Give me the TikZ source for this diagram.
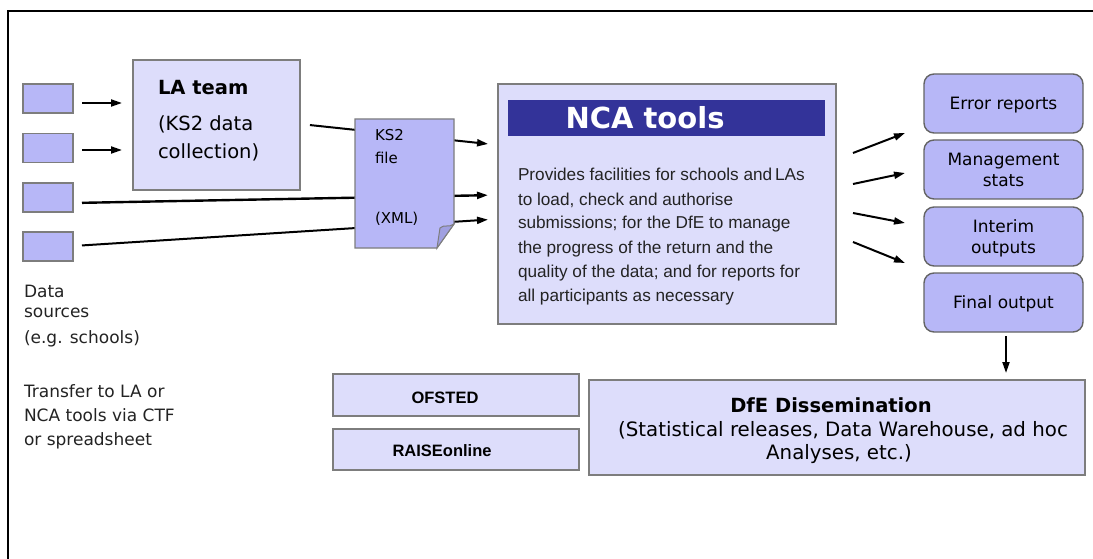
\documentclass[tikz,border=0pt]{standalone}
\usepackage{fontspec}
\setmainfont{DejaVu Sans}
\newfontfamily\arialf{Liberation Sans}
\usetikzlibrary{arrows.meta,calc}
\definecolor{lightfill}{RGB}{221,221,251}
\definecolor{midfill}{RGB}{183,183,247}
\definecolor{flapfill}{RGB}{160,160,225}
\definecolor{bannerblue}{RGB}{51,51,153}
\definecolor{edgegray}{RGB}{125,125,125}
\definecolor{textgray}{RGB}{35,35,35}
\tikzset{
  lbox/.style={draw=edgegray, line width=1.3pt, fill=lightfill, inner sep=0pt, outer sep=0pt},
  srcbox/.style={draw=edgegray, line width=1.2pt, fill=midfill, minimum width=50pt, minimum height=29pt, inner sep=0pt, outer sep=0pt},
  outbox/.style={draw=edgegray!80!black, line width=1.4pt, fill=midfill, rounded corners=10pt,
     minimum width=159pt, minimum height=59pt, inner sep=0pt, outer sep=0pt},
  outtxt/.style={anchor=base, inner sep=0pt, outer sep=0pt, font=\fontsize{17}{20}\selectfont},
  arr/.style={-{Triangle[length=11pt,width=7pt]}, line width=2pt},
  lbl/.style={anchor=base west, inner sep=0pt, outer sep=0pt},
  clbl/.style={anchor=base, inner sep=0pt, outer sep=0pt},
}
\begin{document}
\begin{tikzpicture}[x=1pt,y=-1pt]
\useasboundingbox (0,0) rectangle (1093,559);
\fill[white] (0,0) rectangle (1093,559);
% frame
\draw[line width=1.5pt] (8,559) -- (8,11) -- (1093,11);

% data sources
\node[srcbox] (s1) at (48,98.5) {};
\node[srcbox] (s2) at (48,148) {};
\node[srcbox] (s3) at (48,197.5) {};
\node[srcbox] (s4) at (48,246.5) {};

% LA team
\node[lbox, minimum width=167pt, minimum height=130pt] (la) at (216.5,125) {};
\node[lbl, font=\fontsize{19.5}{24}\selectfont\bfseries] (lat) at (158,95) {LA team};
\node[lbl, font=\fontsize{19.5}{24}\selectfont] (la1) at (158,131) {(KS2 data};
\node[lbl, font=\fontsize{19.5}{24}\selectfont] (la2) at (158,159) {collection)};

% NCA tools
\node[lbox, minimum width=338pt, minimum height=240pt] (nca) at (667,204) {};
\node[fill=bannerblue, minimum width=317pt, minimum height=36pt, inner sep=0pt] (ban) at (666.5,118) {};
\node[font=\fontsize{29}{32}\selectfont\bfseries, text=white, inner sep=0pt] (bant) at (645,118) {NCA tools};
\coordinate (n1) at (498,145);
\coordinate (n2) at (498,195);
\coordinate (n3) at (498,219);

% connectors into LA and NCA (drawn before the KS2 file)
\draw[arr, shorten <=9pt, shorten >=11pt] ($(s1.east)+(0,4.5)$) -- ($(la.west |- s1.east)+(0,4.5)$);
\draw[arr, shorten <=9pt, shorten >=11pt] ($(s2.east)+(0,2)$) -- ($(la.west |- s2.east)+(0,2)$);
\draw[arr, shorten <=10pt, shorten >=10pt] ($(la.east)+(0,-1)$) -- (n1);
\draw[arr, line width=2.4pt, shorten <=9pt, shorten >=10pt] ($(s3.east)+(0,5.5)$) -- (n2);
\draw[arr, shorten <=9pt, shorten >=10pt] ($(s4.east)+(0,-0.5)$) -- (n3);

% KS2 file document
\draw[draw=edgegray, line width=1.2pt, fill=midfill] (355,119) -- (454,119) -- (454,224) -- (437,248) -- (355,248) -- cycle;
\draw[draw=edgegray, line width=1pt, fill=flapfill] (454,224) .. controls (449,228) and (444,224) .. (440,228) -- (437,248) -- cycle;
\node[lbl, font=\fontsize{15}{18}\selectfont] (k1) at (375,141) {KS2};
\node[lbl, font=\fontsize{15}{18}\selectfont] (k2) at (375,164) {file};
\node[lbl, font=\fontsize{15}{18}\selectfont] (k3) at (375,223) {(XML)};

% description
\begin{scope}[every node/.style={lbl, font=\arialf\fontsize{17.2}{20}\selectfont, text=textgray}]
\node (d1) at (518,181) {Provides facilities for schools and\,LAs};
\node (d2) at (518,205) {to load, check and authorise};
\node (d3) at (518,229) {submissions; for the DfE to manage};
\node (d4) at (518,253) {the progress of the return and the};
\node (d5) at (518,277) {quality of the data; and for reports for};
\node (d6) at (518,301) {all participants as necessary};
\end{scope}

% outputs
\node[outbox] (o1) at (1003.5,103.5) {};
\node[outbox] (o2) at (1003.5,169.5) {};
\node[outbox] (o3) at (1003.5,236.5) {};
\node[outbox] (o4) at (1003.5,302.5) {};
\node[outtxt] (o1t) at (1003.5,110) {Error reports};
\node[outtxt] (o2t) at (1003.5,166) {Management};
\node[outtxt] (o2u) at (1003.5,186) {stats};
\node[outtxt] (o3t) at (1003.5,233) {Interim};
\node[outtxt] (o3u) at (1003.5,253) {outputs};
\node[outtxt] (o4t) at (1003.5,308) {Final output};
\coordinate (a1s) at (853,153); \coordinate (a1e) at (905,133);
\coordinate (a2s) at (853,184); \coordinate (a2e) at (905,173);
\coordinate (a3s) at (853,213); \coordinate (a3e) at (905,223);
\coordinate (a4s) at (853,242); \coordinate (a4e) at (905,263);
\draw[arr] (a1s) -- (a1e);
\draw[arr] (a2s) -- (a2e);
\draw[arr] (a3s) -- (a3e);
\draw[arr] (a4s) -- (a4e);

% DfE dissemination
\node[lbox, minimum width=496pt, minimum height=95pt] (dfe) at (837,427.5) {};
\node[clbl, font=\fontsize{19.5}{24}\selectfont\bfseries] (dfe1) at (831,412) {DfE Dissemination};
\node[clbl, font=\fontsize{19.8}{24}\selectfont] (dfe2) at (843,436) {(Statistical releases, Data Warehouse, ad hoc};
\node[clbl, font=\fontsize{19.8}{24}\selectfont] (dfe3) at (839,459) {Analyses, etc.)};
\draw[arr, shorten <=4pt, shorten >=7pt] (o4.south -| 1006,0) -- (dfe.north -| 1006,0);

% OFSTED, RAISEonline
\node[lbox, minimum width=246pt, minimum height=42pt] (of) at (456,395) {};
\node[lbox, minimum width=246pt, minimum height=41pt] (ra) at (456,449.5) {};
\node[clbl, font=\arialf\fontsize{16.5}{20}\selectfont\bfseries] (oft) at (445,403) {OFSTED};
\node[clbl, font=\arialf\fontsize{16.5}{20}\selectfont\bfseries] (rat) at (442,456) {RAISEonline};

% left notes
\begin{scope}[every node/.style={lbl, font=\fontsize{17}{20}\selectfont, text=textgray}]
\node (t1) at (24,297) {Data};
\node (t2) at (24,317) {sources};
\node (t3) at (24,343) {(e.g. schools)};
\node (t4) at (24,397) {Transfer to LA or};
\node (t5) at (24,421) {NCA tools via CTF};
\node (t6) at (24,445) {or spreadsheet};
\end{scope}
\end{tikzpicture}
\end{document}
